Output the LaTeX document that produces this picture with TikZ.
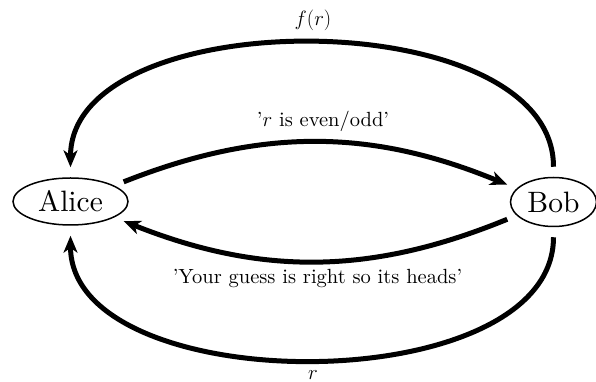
\documentclass[tikz,border=0pt]{standalone}
\usepackage{fontspec}
\setmainfont{lmroman10-regular.otf}
\usetikzlibrary{arrows.meta,shapes.geometric}
\begin{document}
\begin{tikzpicture}[x=1pt,y=1pt,
  person/.style={draw,ellipse,line width=1.5pt,inner sep=0pt,font=\fontsize{29.5}{36}\selectfont},
  link/.style={line width=5pt,-{Stealth[length=17pt,width=14pt,inset=5pt]},shorten <=10pt,shorten >=10pt},
  lbl/.style={font=\fontsize{20.5}{25}\selectfont,inner sep=0pt}]
\useasboundingbox (0,0) rectangle (596,382);
\node[person,minimum width=115pt,minimum height=47pt] (alice) at (70.5,180.5) {Alice};
\node[person,minimum width=86pt,minimum height=49pt] (bob) at (553.5,180) {Bob};
\draw[link] (bob.north) .. controls +(0,176) and +(0,176) .. (alice.north);
\draw[link] (alice.20) to[bend left=22] (bob.160);
\draw[link] (bob.200) to[bend left=22] (alice.340);
\draw[link] (bob.south) .. controls +(0,-175) and +(0,-175) .. (alice.south);
\node[lbl] (lf) at (313,362) {$f(r)$};
\node[lbl] (lparity) at (323,261) {'$r$ is even/odd'};
\node[lbl] (lguess) at (317.5,103) {'Your guess is right so its heads'};
\node[lbl,anchor=base] (lr) at (313,2.5) {$r$};
\end{tikzpicture}
\end{document}
